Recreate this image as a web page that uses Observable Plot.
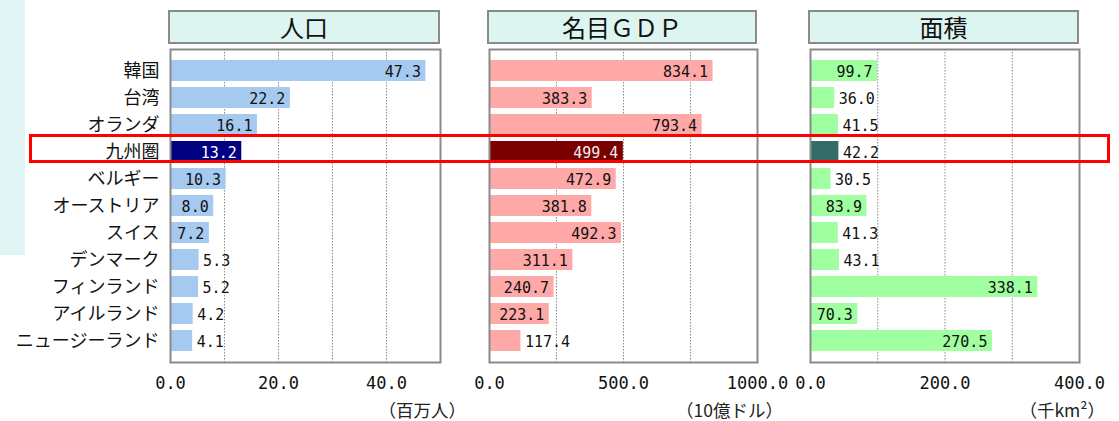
<!DOCTYPE html>
<html><head><meta charset="utf-8">
<script src="https://cdn.jsdelivr.net/npm/d3@7"></script>
<script src="https://cdn.jsdelivr.net/npm/@observablehq/plot@0.6"></script>
<style>
body{margin:0;background:#fff;}
#wrap{position:relative;width:1119px;height:421px;overflow:hidden;font-family:"Noto Sans CJK JP",sans-serif;}
.p{position:absolute;top:0;}
.p svg{overflow:visible;}
.hdr{position:absolute;top:10px;height:34px;box-sizing:border-box;background:#ddf5f0;border:2px solid #8a8a8a;font-size:24px;line-height:29px;text-align:center;color:#111;}
.unit{position:absolute;top:400px;height:21px;font-size:17.5px;line-height:20px;color:#222;text-align:right;white-space:nowrap;}
#side{position:absolute;left:0;top:0;width:25px;height:255px;background:#e0f5f3;}
#hl{position:absolute;left:29px;top:134px;width:1081px;height:29px;box-sizing:border-box;border:3px solid #ff0000;pointer-events:none;}
</style></head><body><div id="wrap"><div id="side"></div></div>
<script>
const countries = ["韓国","台湾","オランダ","九州圏","ベルギー","オーストリア","スイス","デンマーク","フィンランド","アイルランド","ニュージーランド"];
const population = [47.3,22.2,16.1,13.2,10.3,8.0,7.2,5.3,5.2,4.2,4.1];
const gdp = [834.1,383.3,793.4,499.4,472.9,381.8,492.3,311.1,240.7,223.1,117.4];
const area = [99.7,36.0,41.5,42.2,30.5,83.9,41.3,43.1,338.1,70.3,270.5];
const titles = ["人口","名目ＧＤＰ","面積"];
const units = ["（百万人）","（10億ドル）","（千km²）"];
const highlight = "九州圏";

const panels = [
  {title:titles[0], values:population, domain:[0,50], grid:[10,20,30,40], ticks:[0,20,40], light:"#a6c9f0", dark:"#000080", darkText:"#ffffff", left:0, width:460, ml:170, mr:20, inside:6.5, unit:units[0], yAxis:true},
  {title:titles[1], values:gdp, domain:[0,1000], grid:[250,500,750], ticks:[0,500,1000], light:"#ffa8a8", dark:"#7a0000", darkText:"#eeeeee", left:460, width:324, ml:29, mr:27, inside:135, unit:units[1], yAxis:false},
  {title:titles[2], values:area, domain:[0,400], grid:[100,200,300], ticks:[0,200,400], light:"#a0ffa0", dark:"#336b68", darkText:"#111111", left:780, width:339, ml:30, mr:40, inside:53, unit:units[2], yAxis:false}
];

const wrap = document.getElementById("wrap");
const fmt = d3.format(".1f");
const H = 421, MT = 49, MB = 59;

for (const p of panels) {
  const data = countries.map((name, i) => ({name, v: p.values[i]}));
  const isIn = d => d.v >= p.inside;
  const marks = [
    Plot.ruleX(p.grid, {stroke:"#8a8a8a", strokeWidth:1, strokeDasharray:"1.5,1.5"}),
    Plot.barX(data, {x:"v", y:"name", fill: d => d.name === highlight ? p.dark : p.light}),
    Plot.text(data.filter(isIn), {x:"v", y:"name", text: d => fmt(d.v), textAnchor:"end", dx:-5, dy:1,
      fill: d => d.name === highlight ? p.darkText : "#111", fontFamily:"DejaVu Sans Mono", fontSize:15}),
    Plot.text(data.filter(d => !isIn(d)), {x:"v", y:"name", text: d => fmt(d.v), textAnchor:"start", dx:4, dy:1,
      fill:"#111", fontFamily:"DejaVu Sans Mono", fontSize:15}),
    Plot.axisX({ticks:p.ticks, tickFormat:fmt, tickSize:0, tickPadding:14, fontFamily:"DejaVu Sans Mono", fontSize:17, fill:"#111", label:null}),
    Plot.frame({stroke:"#8a8a8a", strokeWidth:2})
  ];
  if (p.yAxis) marks.push(Plot.axisY({tickSize:0, tickPadding:11, fontSize:18, fontFamily:"Noto Sans CJK JP", fill:"#111", label:null}));
  const chart = Plot.plot({
    width:p.width, height:H, marginLeft:p.ml, marginRight:p.mr, marginTop:MT, marginBottom:MB,
    x:{domain:p.domain, axis:null},
    y:{domain:countries, padding:0.22, axis:null},
    style:{background:"transparent", overflow:"visible"},
    marks
  });
  const div = document.createElement("div");
  div.className = "p";
  div.style.left = p.left + "px";
  div.appendChild(chart);
  wrap.appendChild(div);

  const rw = p.width - p.ml - p.mr;
  const hdr = document.createElement("div");
  hdr.className = "hdr";
  hdr.style.left = (p.left + p.ml - 2) + "px";
  hdr.style.width = (rw + 2) + "px";
  hdr.textContent = p.title;
  wrap.appendChild(hdr);

  const u = document.createElement("div");
  u.className = "unit";
  u.style.left = (p.left + p.ml + rw - 200 + 26) + "px";
  u.style.width = "200px";
  u.textContent = p.unit;
  wrap.appendChild(u);
}
const hl = document.createElement("div");
hl.id = "hl";
wrap.appendChild(hl);
</script></body></html>
